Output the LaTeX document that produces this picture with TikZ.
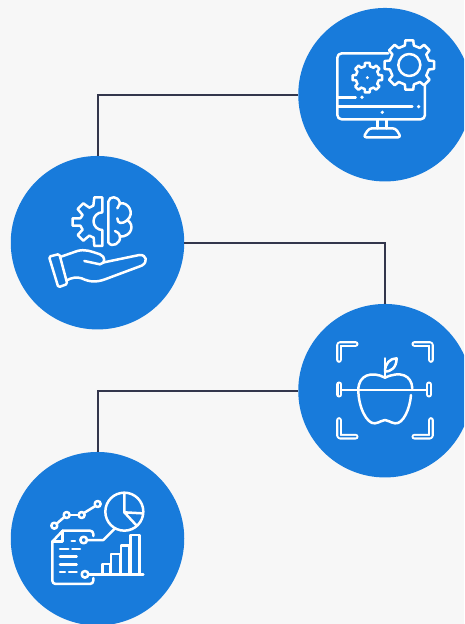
\documentclass[tikz,border=0pt]{standalone}
\definecolor{bgGray}{HTML}{F7F7F7}
\definecolor{iconBlue}{HTML}{187BDB}
\definecolor{linkDark}{HTML}{33364C}
\tikzset{
  disc/.style={circle,fill=iconBlue,minimum size=173.5pt,inner sep=0pt},
  link/.style={draw=linkDark,line width=2pt},
  icon/.style={draw=white,line width=2.5pt,line cap=round,line join=round},
  hollow/.style={draw=white,line width=2.1pt,double=iconBlue,double distance=1.5pt,line cap=round,line join=round,rounded corners=1pt},
  spot/.style={fill=white},
}
% gear: centre x, centre y, outer radius, root radius
\newcommand{\myGear}[4]{
  \begin{scope}[shift={(#1,#2)}]
    \draw[icon,fill=iconBlue] (-9:#3) \foreach \a in {0,45,...,315}{
      -- (\a-9:#3) -- (\a+9:#3) -- (\a+13:#4) -- (\a+32:#4)
    } -- cycle;
  \end{scope}
}
\newcommand{\iconScreen}{
  \draw[icon] (190,70) -- (50,70) to[out=180,in=90] (37,83) -- (37,255) to[out=270,in=180] (50,268)
    -- (287,268) to[out=0,in=270] (300,255) -- (300,165);
  \draw[icon] (40,202) -- (92,202);
  \fill[spot] (111,202) circle (5.5);
  \draw[icon] (40,230) -- (262,230);
  \fill[spot] (281,230) circle (5.5);
  \fill[spot] (172,247) circle (5.5);
  \draw[icon] (158,268) -- (158,295);
  \draw[icon] (185,268) -- (185,295);
  \draw[icon,rounded corners=3pt] (132,295) -- (212,295) -- (228,322) -- (115,322) -- cycle;
  \myGear{127}{143}{45}{35}
  \fill[spot] (127,143) circle (5);
  \myGear{253}{105}{75}{60}
  \draw[icon] (253,105) circle (33);
}
\newcommand{\iconHand}{
  \draw[icon] (187,37) -- (163,37) -- (160,62) -- (148,68) -- (130,55) -- (113,72) -- (128,90) -- (121,100)
    -- (98,100) -- (98,122) -- (121,122) -- (128,134) -- (113,150) -- (130,167) -- (148,152) -- (161,158)
    -- (163,183) -- (187,183) -- (187,135) arc[start angle=90,end angle=270,radius=26.5] -- cycle;
  \draw[icon] (205,50) .. controls (207,33) and (235,30) .. (240,55)
    .. controls (265,50) and (285,85) .. (262,105)
    .. controls (285,120) and (275,155) .. (240,155)
    .. controls (243,175) and (215,190) .. (205,172) -- cycle;
  \draw[icon] (240,55) .. controls (238,62) and (235,65) .. (232,70);
  \draw[icon] (232,100) .. controls (232,115) and (245,120) .. (262,105);
  \draw[icon] (240,155) .. controls (238,145) and (232,140) .. (225,138);
  \draw[icon,rounded corners=1.5pt] (27,215) -- (58,207) -- (82,297) -- (55,307) -- cycle;
  \draw[icon] (63,215) -- (112,198) .. controls (135,192) and (150,198) .. (180,208)
    .. controls (197,215) and (197,235) .. (180,238) -- (133,228);
  \draw[icon] (192,232) -- (298,210) .. controls (320,208) and (325,232) .. (305,242)
    -- (195,283) .. controls (170,292) and (150,292) .. (125,280)
    .. controls (110,275) and (95,278) .. (80,286);
}
\newcommand{\iconApple}{
  \draw[hollow] (92,42) -- (42,42) -- (42,90);
  \draw[hollow] (268,42) -- (318,42) -- (318,90);
  \draw[hollow] (42,270) -- (42,320) -- (92,320);
  \draw[hollow] (318,270) -- (318,320) -- (268,320);
  \draw[hollow] (43,163) -- (43,194);
  \draw[hollow] (312,163) -- (312,194);
  \draw[icon] (50,180) -- (305,180);
  \draw[icon] (262,175) .. controls (260,135) and (225,122) .. (180,143)
    .. controls (140,122) and (100,135) .. (100,180)
    .. controls (100,230) and (125,283) .. (150,280)
    .. controls (165,278) and (170,270) .. (180,270)
    .. controls (190,270) and (195,278) .. (210,280)
    .. controls (235,283) and (255,235) .. (258,195);
  \draw[icon] (180,143) -- (180,85);
  \draw[icon] (180,125) .. controls (195,125) and (215,115) .. (215,85)
    .. controls (195,85) and (180,100) .. (180,125);
}
\newcommand{\iconReport}{
  \draw[icon] (68,152) -- (150,152) to[out=0,in=90] (160,162) -- (160,168);
  \draw[icon] (68,152) -- (37,185) -- (37,302) to[out=270,in=180] (47,312) -- (150,312) to[out=0,in=270] (160,302) -- (160,294);
  \draw[icon] (68,152) -- (68,185) -- (37,185);
  \foreach \xa/\xb/\yy in {95/105/183,60/85/207,97/120/207,60/110/230,60/110/253,60/75/276,87/110/276}{
    \draw[icon] (\xa,\yy) -- (\xb,\yy);
  }
  \draw[icon] (131,180) circle (10);
  \draw[icon] (135,283) circle (10);
  \draw[icon] (141,180) -- (190,180) -- (225,145);
  \draw[icon] (145,283) -- (310,283);
  \draw[icon] (187,283) -- (187,252) -- (212,252) -- (212,283);
  \draw[icon] (213,283) -- (213,222) -- (240,222) -- (240,283);
  \draw[icon] (243,283) -- (243,197) -- (268,197) -- (268,283);
  \draw[icon] (272,283) -- (272,165) -- (298,165) -- (298,283);
  \draw[icon] (253,95) circle (57);
  \draw[icon] (253,40) -- (253,97) -- (307,100);
  \draw[icon] (253,97) -- (290,137);
  \draw[icon] (50,131) -- (73,111);
  \draw[icon] (89,105) -- (116,105);
  \draw[icon] (132,99) -- (166,78);
  \foreach \xx/\yy in {43/137,80/105,125/105,173/72}{
    \draw[icon] (\xx,\yy) circle (9);
  }
}
\begin{document}
\begin{tikzpicture}[x=1pt,y=-1pt]
  \useasboundingbox (0,0) rectangle (464,624);
  \clip (0,0) rectangle (464,624);
  \fill[bgGray] (0,0) rectangle (464,624);

  \node[disc] (gears) at (385,94.7) {};
  \node[disc] (brain) at (97.5,242.7) {};
  \node[disc] (apple) at (385,390.7) {};
  \node[disc] (chart) at (97.5,538.7) {};

  \draw[link] (brain.north) |- (gears.west);
  \draw[link] (brain.east) -| (apple.north);
  \draw[link] (chart.north) |- (apple.west);

  % icons are traced in local coordinates, three units to the pixel
  \begin{scope}[xshift=325pt,yshift=-30pt,x=0.3333pt,y=-0.3333pt]
    \iconScreen
  \end{scope}
  \begin{scope}[xshift=40pt,yshift=-185pt,x=0.3333pt,y=-0.3333pt]
    \iconHand
  \end{scope}
  \begin{scope}[xshift=325pt,yshift=-330pt,x=0.3333pt,y=-0.3333pt]
    \iconApple
  \end{scope}
  \begin{scope}[xshift=40pt,yshift=-480pt,x=0.3333pt,y=-0.3333pt]
    \iconReport
  \end{scope}
\end{tikzpicture}
\end{document}
